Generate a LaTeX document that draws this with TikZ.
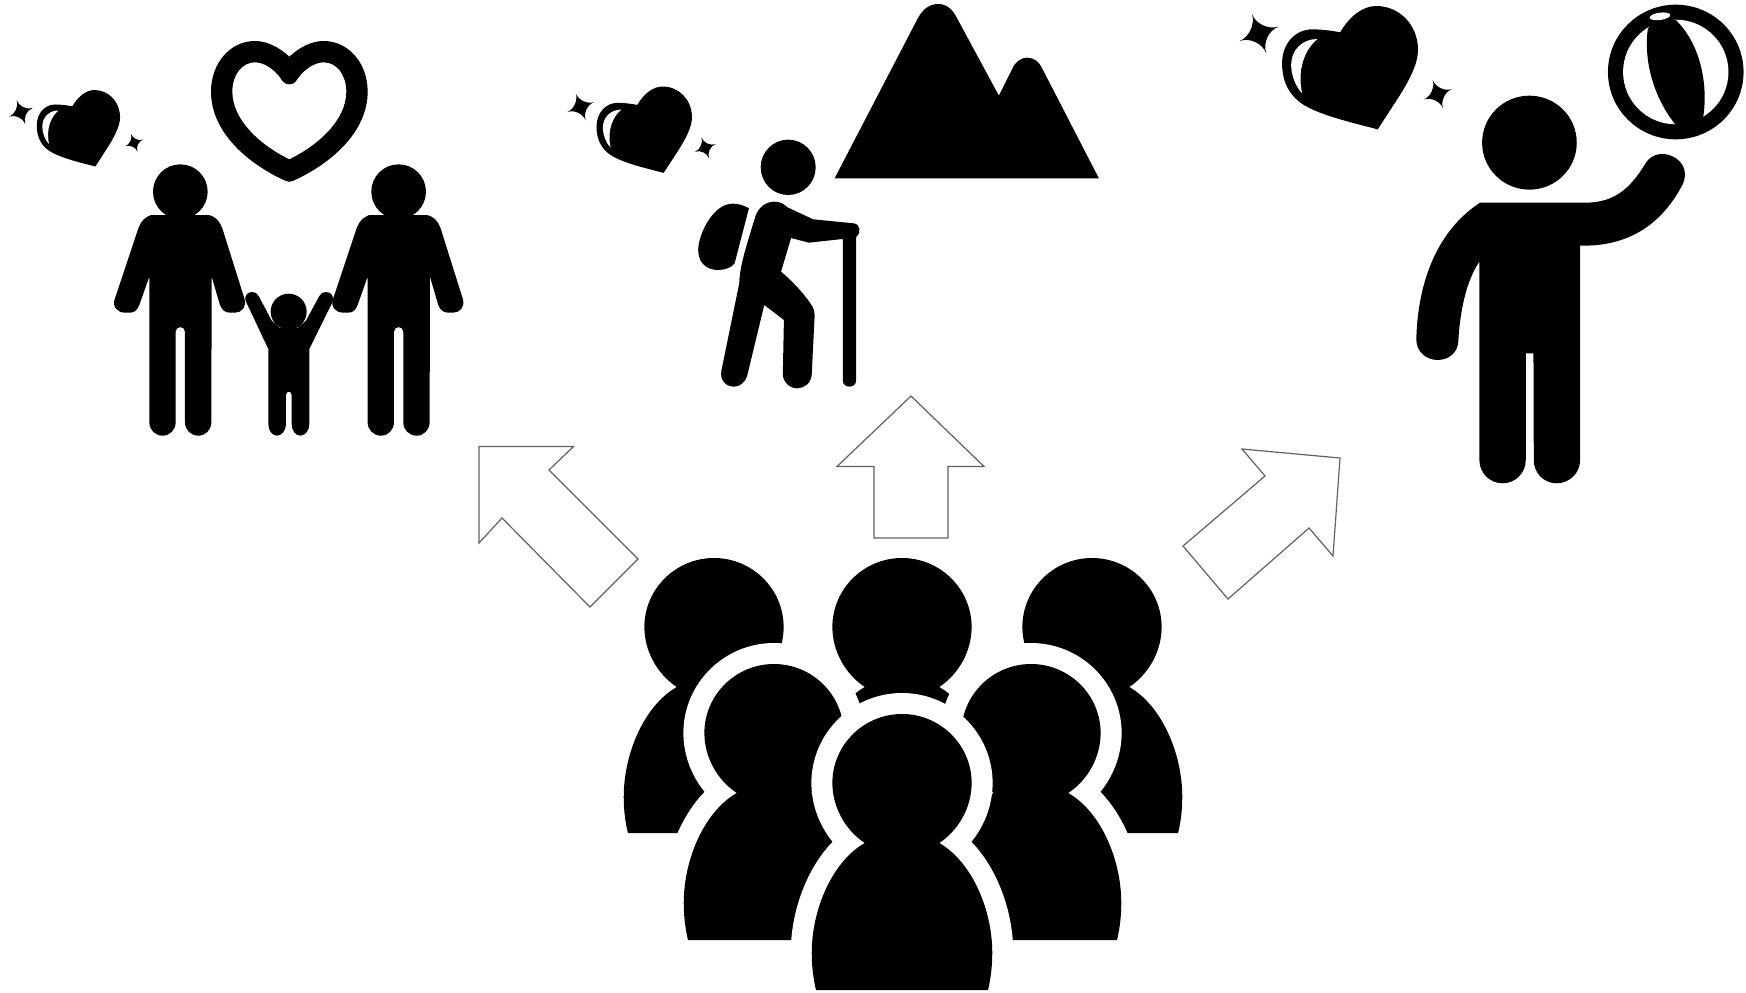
\documentclass[tikz,border=0pt]{standalone}
\tikzset{
  blk/.style={fill=black,draw=none},
  wht/.style={fill=white,draw=none},
  halo/.style={preaction={draw=white,line width=21pt,line join=round},fill=black},
  plain/.style={fill=black,draw=none},
  outarrow/.style={fill=white,draw=black!62,line width=0.6pt,line join=miter}
}
% crowd member: local coordinates, origin at head centre
\newcommand{\crowdfig}[4]{%
  \begin{scope}[shift={(#1,#2)},xscale=1.147]
  \path[#3] (32.5,60) .. controls (50,46.5) and (60.7,23.6) .. (60.7,0)
    .. controls (60.7,-38) and (33.4,-69) .. (0,-69)
    .. controls (-33.4,-69) and (-60.7,-38) .. (-60.7,0)
    .. controls (-60.7,23.6) and (-50,46.5) .. (-32.5,60)
    .. controls (-60,78) and (-78.7,125) .. (-78.7,170)
    .. controls (-78.7,185) and (-77,197) .. (-75,#4)
    -- (75,#4)
    .. controls (77,197) and (78.7,185) .. (78.7,170)
    .. controls (78.7,125) and (60,78) .. (32.5,60) -- cycle;
  \end{scope}}
% heart with highlight, in local coordinates of the largest heart
\newcommand{\heartfig}[4]{%
  \begin{scope}[shift={(#1,#2)},xscale=#3,yscale=#4]
  \path[blk] (358,97) .. controls (385,50) and (425,18) .. (465,18)
    .. controls (535,18) and (590,75) .. (590,150)
    .. controls (590,190) and (565,240) .. (530,295)
    -- (470,388)
    .. controls (380,365) and (300,345) .. (250,315)
    .. controls (210,290) and (185,250) .. (185,190)
    .. controls (185,130) and (225,88) .. (275,88)
    .. controls (300,88) and (335,92) .. (358,97) -- cycle;
  \path[wht] (290,117) .. controls (245,117) and (212,150) .. (212,195)
    .. controls (212,225) and (225,260) .. (245,280)
    .. controls (235,240) and (235,165) .. (290,117) -- cycle;
  \end{scope}}
\newcommand{\sparklefig}[3]{%
  \begin{scope}[shift={(#1,#2)},scale=#3]
  \path[blk] (-20,-58) .. controls (-10,-29) and (30,-10) .. (60,-20)
    .. controls (30,-10) and (12,30) .. (23,60)
    .. controls (12,30) and (-28,12) .. (-57,23)
    .. controls (-28,12) and (-10,-29) .. (-20,-58) -- cycle;
  \end{scope}}
% standing adult, local coordinates of the family zoom
\newcommand{\manfig}[1]{%
  \begin{scope}[shift={(#1,0)},scale=1/3]
  \path[blk] (541,575) circle[radius=82];
  \path[blk] (450,645) -- (620,645)
    .. controls (645,645) and (660,665) .. (667,685)
    -- (733,895)
    .. controls (742,920) and (725,938) .. (705,938)
    -- (690,938)
    .. controls (675,938) and (666,930) .. (660,915)
    -- (635,830) -- (634,1267)
    .. controls (634,1289) and (617,1307) .. (595,1307)
    .. controls (572,1307) and (555,1289) .. (555,1267)
    -- (555,995)
    .. controls (555,977) and (527,977) .. (527,995)
    -- (527,1267)
    .. controls (527,1289) and (510,1307) .. (488,1307)
    .. controls (465,1307) and (448,1289) .. (448,1267)
    -- (448,830) -- (418,915)
    .. controls (412,930) and (404,938) .. (390,938)
    -- (375,938)
    .. controls (352,938) and (335,920) .. (345,895)
    -- (415,685)
    .. controls (422,665) and (437,645) .. (462,645) -- cycle;
  \end{scope}}
\begin{document}
\begin{tikzpicture}[x=0.5pt,y=-0.5pt]
\useasboundingbox (0,0) rectangle (1746,992);
\fill[white] (0,0) rectangle (1746,992);

% ---- family
\heartfig{-1.3}{86.3}{0.2057}{0.2067}
\sparklefig{20.7}{112}{0.2}
\sparklefig{134}{142.7}{0.15}
\begin{scope}[scale=1/3]
  \path[blk,even odd rule]
    (868,170) .. controls (835,140) and (800,123) .. (765,123)
    .. controls (690,123) and (633,190) .. (633,275)
    .. controls (633,400) and (750,495) .. (858,543)
    .. controls (865,546) and (871,546) .. (878,543)
    .. controls (986,495) and (1103,400) .. (1103,275)
    .. controls (1103,190) and (1046,123) .. (971,123)
    .. controls (936,123) and (901,140) .. (868,170) -- cycle
    (868,253) .. controls (855,253) and (848,245) .. (840,232)
    .. controls (820,205) and (790,187) .. (765,187)
    .. controls (725,187) and (697,225) .. (697,275)
    .. controls (697,360) and (780,435) .. (868,478)
    .. controls (956,435) and (1039,360) .. (1039,275)
    .. controls (1039,225) and (1011,187) .. (971,187)
    .. controls (946,187) and (916,205) .. (896,232)
    .. controls (888,245) and (881,253) .. (868,253) -- cycle;
\end{scope}
\manfig{0}
\manfig{218.3}
\begin{scope}[scale=1/3]
  % child
  \path[blk] (738,905) .. controls (730,885) and (745,876) .. (757,876)
    .. controls (765,876) and (772,880) .. (776,888)
    -- (815,962) -- (840,984) -- (892,984) -- (918,962)
    -- (958,888)
    .. controls (962,880) and (970,876) .. (978,876)
    .. controls (992,876) and (1004,888) .. (998,905)
    -- (928,1047) -- (928,1272)
    .. controls (928,1292) and (915,1307) .. (901,1307)
    .. controls (887,1307) and (875,1292) .. (875,1272)
    -- (875,1185)
    .. controls (875,1172) and (858,1172) .. (858,1185)
    -- (858,1272)
    .. controls (858,1292) and (845,1307) .. (831,1307)
    .. controls (817,1307) and (805,1292) .. (805,1272)
    -- (805,1047) -- cycle;
  \path[blk] (866,935) circle[radius=54];
\end{scope}

% ---- hiker
\heartfig{552.9}{82.3}{0.2357}{0.2333}
\sparklefig{580.4}{106.7}{0.23}
\sparklefig{705}{147.7}{0.175}
\begin{scope}[shift={(550,0)},xscale=0.3571,yscale=0.3333]
  \path[blk] (667,502) ellipse[x radius=77,y radius=83];
  \path[blk] (557,625) .. controls (535,612) and (510,605) .. (485,618)
    .. controls (445,640) and (415,710) .. (415,750)
    .. controls (415,790) and (440,810) .. (470,810)
    .. controls (490,810) and (508,803) .. (517,790) -- cycle;
  \path[blk] (575,650) .. controls (583,622) and (605,605) .. (628,605)
    .. controls (645,605) and (655,612) .. (665,622)
    -- (737,658) -- (850,670)
    .. controls (870,672) and (872,700) .. (857,712)
    -- (857,1142)
    .. controls (857,1166) and (820,1166) .. (820,1142)
    -- (820,717) -- (725,728) -- (675,714) -- (647,815)
    .. controls (680,845) and (715,885) .. (735,920)
    .. controls (740,930) and (741,938) .. (741,948)
    -- (733,1122)
    .. controls (732,1150) and (712,1165) .. (692,1165)
    .. controls (670,1165) and (652,1145) .. (652,1122)
    -- (655,960) -- (600,915) -- (552,1128)
    .. controls (545,1150) and (530,1160) .. (515,1160)
    .. controls (492,1160) and (475,1140) .. (480,1112)
    -- (530,850) .. controls (530,800) and (555,720) .. (575,650) -- cycle;
  % mountains
  \path[blk] (797,535) -- (1030,55)
    .. controls (1045,25) and (1065,12) .. (1087,12)
    .. controls (1110,12) and (1128,28) .. (1140,55)
    -- (1257,287) -- (1295,205)
    .. controls (1305,183) and (1320,173) .. (1337,173)
    .. controls (1355,173) and (1370,185) .. (1378,205)
    -- (1537,535) -- cycle;
\end{scope}

% ---- ball player
\heartfig{1220}{0}{0.3356}{0.3333}
\sparklefig{1258.6}{33.3}{0.3333}
\sparklefig{1437.5}{94}{0.243}
\begin{scope}[shift={(1220,0)},xscale=0.3356,yscale=0.3333]
  \path[blk] (1358,216) circle[radius=202];
  \path[wht] (1358,216) circle[radius=157];
  \path[blk] (1275,85) .. controls (1262,180) and (1290,290) .. (1358,375)
    -- (1400,395) -- (1440,350)
    .. controls (1455,250) and (1430,130) .. (1358,60)
    -- (1316,45) -- cycle;
  \path[wht,rotate around={8:(1311,49)}] (1311,49) ellipse[x radius=31,y radius=11];
  \path[blk] (922,428) circle[radius=141];
  \path[blk] (775,608) -- (1075,608)
    .. controls (1170,612) and (1220,570) .. (1268,490)
    .. controls (1285,460) and (1330,450) .. (1365,480)
    .. controls (1390,500) and (1390,535) .. (1375,560)
    .. controls (1310,680) and (1210,740) .. (1073,737)
    -- (1073,1381)
    .. controls (1073,1419) and (1041,1450) .. (1003,1450)
    .. controls (965,1450) and (935,1419) .. (935,1381)
    -- (934,1060) -- (911,1060) -- (911,1381)
    .. controls (911,1419) and (880,1450) .. (842,1450)
    .. controls (804,1450) and (773,1419) .. (773,1381)
    -- (773,785)
    .. controls (735,840) and (715,930) .. (710,1025)
    .. controls (708,1058) and (682,1080) .. (648,1080)
    .. controls (612,1080) and (583,1052) .. (585,1015)
    .. controls (590,840) and (650,690) .. (775,608) -- cycle;
\end{scope}

% ---- block arrows
\draw[outarrow] (479,446.5) -- (573.5,446.5) -- (549,470) -- (638,559) -- (590,607) -- (502,518) -- (479,543) -- cycle;
\draw[outarrow] (911,396) -- (984,466.5) -- (948,466.5) -- (948,538) -- (874,538) -- (874,466.5) -- (837,466.5) -- cycle;
\draw[outarrow] (1242,449) -- (1340,458) -- (1333,556) -- (1309,528) -- (1228,599) -- (1183,546) -- (1265,476) -- cycle;

% ---- crowd
\crowdfig{714}{627}{plain}{206}
\crowdfig{902}{627}{plain}{206}
\crowdfig{1092}{627}{plain}{206}
\crowdfig{774}{733}{halo}{207}
\crowdfig{1031}{733}{halo}{207}
\crowdfig{902}{783}{halo}{207}
\end{tikzpicture}
\end{document}
